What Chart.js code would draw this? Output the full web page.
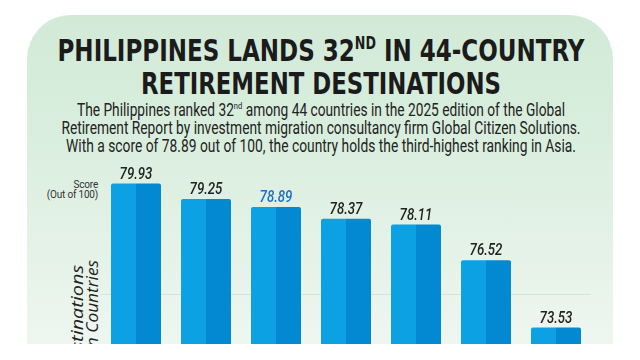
<!DOCTYPE html>
<html>
<head>
<meta charset="utf-8">
<script src="https://cdn.jsdelivr.net/npm/chart.js@4.4.1/dist/chart.umd.min.js"></script>
<style>
  html, body { margin:0; padding:0; background:#fff; }
  #stage { position:relative; width:640px; height:360px; overflow:hidden; background:#fff; }
  #panel { position:absolute; left:27px; top:15px; width:586px; height:329px; overflow:hidden;
           border-radius:44px 44px 0 0;
           background:linear-gradient(to bottom, #d1ead6 0%, #dcefe0 45%, #eef6f0 100%); }
  .cond { font-family:"DejaVu Sans Condensed","Liberation Sans",sans-serif; }
  .rob { font-family:Roboto,"Liberation Sans",sans-serif; }
  .line { position:absolute; left:0; width:640px; height:34px; white-space:nowrap; }
  .fit { position:absolute; left:321px; top:0; white-space:nowrap; transform-origin:50% 50%; }
  .title { font-weight:bold; font-size:31px; line-height:33px; color:#1b1b1b; }
  .sub { font-size:18px; line-height:18px; color:#222; }
  sup { font-size:0.55em; line-height:0; vertical-align:0.7em; }
  #score { position:absolute; right:542px; top:180px; text-align:right; font-size:10px; line-height:10px; color:#333; letter-spacing:-0.2px; }
  .rot { position:absolute; white-space:nowrap; font-family:"Open Sans","Liberation Sans",sans-serif; font-style:italic;
         font-weight:500; font-size:16px; line-height:17px; color:#222; transform-origin:0 0; }
  #chart { position:absolute; left:0; top:150px; }
</style>
</head>
<body>
<div id="stage">
  <div id="panel">
    <div class="rot" style="left:42px; top:250px; transform:rotate(-90deg) scaleX(1.24) translateX(-100%);">Top Retirement Destinations</div>
    <div class="rot" style="left:57px; top:245px; transform:rotate(-90deg) scaleX(1.08) translateX(-100%);">Among Asian Countries</div>
  </div>
  <div class="line cond title" style="top:34px;"><span class="fit" data-w="527">PHILIPPINES LANDS 32<sup>ND</sup> IN 44-COUNTRY</span></div>
  <div class="line cond title" style="top:67px;"><span class="fit" data-w="360">RETIREMENT DESTINATIONS</span></div>
  <div class="line rob sub" style="top:101px;"><span class="fit" data-w="488">The Philippines ranked 32<sup>nd</sup> among 44 countries in the 2025 edition of the Global</span></div>
  <div class="line rob sub" style="top:119px;"><span class="fit" data-w="519">Retirement Report by investment migration consultancy firm Global Citizen Solutions.</span></div>
  <div class="line rob sub" style="top:137px;"><span class="fit" data-w="510">With a score of 78.89 out of 100, the country holds the third-highest ranking in Asia.</span></div>
  <div id="score" class="rob">Score<br>(Out of 100)</div>
  <canvas id="chart" width="640" height="194"></canvas>
</div>
<script>
// data
const categories = ['1st', '2nd', '3rd', '4th', '5th', '6th', '7th'];
const scores = [79.93, 79.25, 78.89, 78.37, 78.11, 76.52, 73.53];
const highlightIndex = 2;   // the Philippines
const gridTicks = [75];

const LIGHT = '#0ba1e3', DARK = '#0389d2';
const LABEL = '#222222', HILITE = '#1e6cc4';

function fitLines(){
  document.querySelectorAll('.fit').forEach(el => {
    el.style.transform = 'translateX(-50%)';
    const w = el.getBoundingClientRect().width;
    const target = +el.dataset.w;
    if(w > 0) el.style.transform = `translateX(-50%) scaleX(${target / w})`;
  });
}

// value labels on top of each bar, squeezed a little like the condensed original
const valueLabels = {
  id: 'valueLabels',
  afterDatasetsDraw(chart){
    const ctx = chart.ctx;
    const meta = chart.getDatasetMeta(0);
    const xs = chart.scales.x;
    ctx.save();
    ctx.font = 'italic 500 16px Roboto, "DejaVu Sans", sans-serif';
    ctx.textAlign = 'center';
    ctx.textBaseline = 'alphabetic';
    meta.data.forEach((el, i) => {
      ctx.save();
      ctx.translate(xs.getPixelForValue(i), el.y - 5);
      ctx.scale(0.83, 1);
      ctx.fillStyle = i === highlightIndex ? HILITE : LABEL;
      ctx.fillText(scores[i].toFixed(2), 0, 0);
      ctx.restore();
    });
    ctx.restore();
  }
};

let chart = null;
function draw(){
  fitLines();
  if(chart) chart.destroy();
  chart = new Chart(document.getElementById('chart'), {
    type: 'bar',
    data: {
      labels: categories,
      datasets: [
        { data: scores, backgroundColor: LIGHT, borderRadius: {topLeft:2, topRight:0, bottomLeft:0, bottomRight:0} },
        { data: scores, backgroundColor: DARK, borderRadius: {topLeft:0, topRight:2, bottomLeft:0, bottomRight:0} }
      ]
    },
    options: {
      responsive: false,
      animation: false,
      layout: { padding: { left: 101, right: 49, top: 9.5, bottom: 0 } },
      datasets: { bar: { categoryPercentage: 50/70, barPercentage: 1 } },
      plugins: { legend: { display: false }, tooltip: { enabled: false } },
      scales: {
        x: { display: false },
        y: {
          min: 72.8, max: 81,
          border: { display: false },
          ticks: { display: false },
          grid: { drawTicks: false, color: '#d6e2da', lineWidth: 1 },
          afterBuildTicks: s => { s.ticks = gridTicks.map(v => ({ value: v })); }
        }
      }
    },
    plugins: [valueLabels]
  });
}

draw();
if(document.fonts && document.fonts.ready) document.fonts.ready.then(draw);
</script>
</body>
</html>
